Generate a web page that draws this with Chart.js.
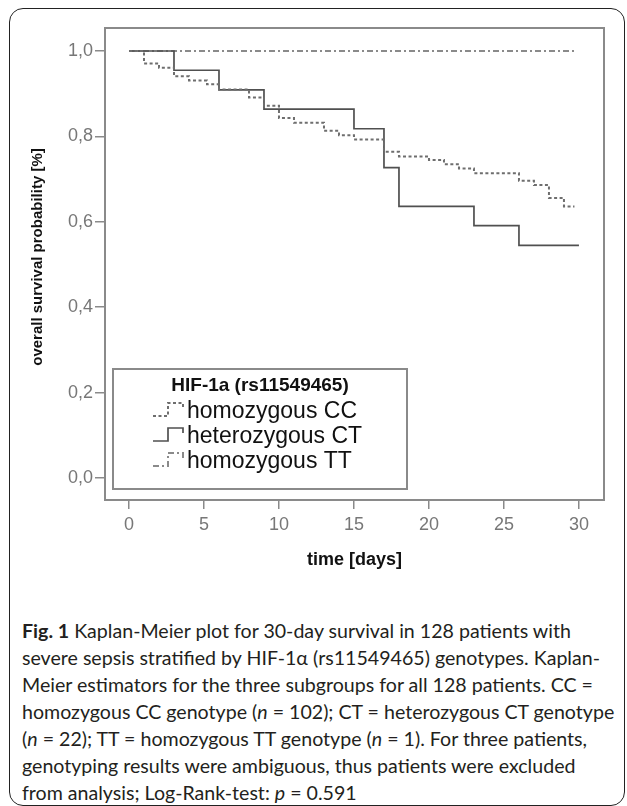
<!DOCTYPE html>
<html>
<head>
<meta charset="utf-8">
<script src="https://cdn.jsdelivr.net/npm/chart.js@4"></script>
<style>
  body { margin:0; width:627px; height:806px; position:relative; overflow:hidden; background:#fff; }
  #frame { position:absolute; left:9px; top:8px; width:616px; height:798px; border:1.5px solid #222; border-radius:14px; box-sizing:border-box; }
  #wrap { position:absolute; left:0; top:0; width:627px; height:580px; }
  #cap { position:absolute; left:22px; top:617px; font:19.6px Lato, sans-serif; line-height:27px; white-space:nowrap; color:#231f20; }
</style>
</head>
<body>
<div id="frame"></div>
<div id="wrap"><canvas id="km"></canvas></div>
<div id="cap">
<b>Fig. 1</b> Kaplan-Meier plot for 30-day survival in 128 patients with<br>
severe sepsis stratified by HIF-1α (rs11549465) genotypes. Kaplan-<br>
Meier estimators for the three subgroups for all 128 patients. CC =<br>
homozygous CC genotype (<i>n</i> = 102); CT = heterozygous CT genotype<br>
(<i>n</i> = 22); TT = homozygous TT genotype (<i>n</i> = 1). For three patients,<br>
genotyping results were ambiguous, thus patients were excluded<br>
from analysis; Log-Rank-test: <i>p</i> = 0.591
</div>
<script>
// survival curves (day, survival after the step)
const ccDays = [0, 1, 2, 3, 4, 5.2, 6, 8, 9, 10, 11, 13, 14, 15, 17, 18, 20, 21, 22, 23, 26, 27, 28, 29, 29.7];
const ccSurv = [1, 0.971, 0.961, 0.941, 0.931, 0.922, 0.910, 0.891, 0.872, 0.843, 0.832, 0.813, 0.803, 0.793, 0.764, 0.753, 0.745, 0.735, 0.725, 0.714, 0.696, 0.686, 0.656, 0.636, 0.636];
const ctDays = [0, 3, 6, 9, 15, 17, 18, 23, 26, 30];
const ctSurv = [1, 0.955, 0.909, 0.864, 0.818, 0.727, 0.636, 0.591, 0.545, 0.545];
const ttDays = [0, 29.7];
const ttSurv = [1, 1];

const groupNames = ['homozygous CC', 'heterozygous CT', 'homozygous TT'];
const legendTitle = 'HIF-1a (rs11549465)';

const xTicks = [0, 5, 10, 15, 20, 25, 30];
const yTicks = [0, 0.2, 0.4, 0.6, 0.8, 1.0];
const yTickLabels = ['0,0', '0,2', '0,4', '0,6', '0,8', '1,0'];

function pts(xs, ys) { return xs.map((x, i) => ({x: x, y: ys[i]})); }

const axisGray = '#8a8a8a';

// frame round the plot area + y axis title
const framePlugin = {
  id: 'frame',
  afterDraw(chart) {
    const a = chart.chartArea, c = chart.ctx;
    c.save();
    c.strokeStyle = axisGray; c.lineWidth = 2;
    c.strokeRect(a.left, a.top, a.right - a.left, a.bottom - a.top);
    c.translate(38, 257); c.rotate(-Math.PI / 2);
    c.fillStyle = '#111'; c.font = 'bold 15px "Liberation Sans", Arial';
    c.textAlign = 'center'; c.textBaseline = 'middle';
    c.fillText('overall survival probability [%]', 0, 0);
    c.restore();
  }
};

// SPSS style legend box inside the plot
const boxLegend = {
  id: 'boxLegend',
  afterDraw(chart) {
    const c = chart.ctx;
    const L = 113, T = 369, R = 407, B = 489;
    c.save();
    c.fillStyle = '#fff'; c.fillRect(L, T, R - L, B - T);
    c.strokeStyle = axisGray; c.lineWidth = 2;
    c.strokeRect(L, T, R - L, B - T);
    c.fillStyle = '#111'; c.textBaseline = 'middle';
    c.font = 'bold 19px "Liberation Sans", Arial'; c.textAlign = 'center';
    c.fillText(legendTitle, (L + R) / 2, 386);
    c.font = '23px "Liberation Sans", Arial'; c.textAlign = 'left';
    chart.data.datasets.forEach((ds, i) => {
      const y = 412 + i * 25;
      c.strokeStyle = ds.borderColor; c.lineWidth = ds.borderWidth;
      c.setLineDash(ds.borderDash || []);
      c.beginPath();
      c.moveTo(153, y + 4); c.lineTo(168, y + 4); c.lineTo(168, y - 9);
      c.lineTo(183, y - 9); c.lineTo(183, y - 4);
      c.stroke();
      c.setLineDash([]);
      c.fillStyle = '#111';
      c.fillText(ds.label, 187, y);
    });
    c.restore();
  }
};

new Chart(document.getElementById('km'), {
  type: 'line',
  data: {
    datasets: [
      {label: groupNames[0], data: pts(ccDays, ccSurv), borderColor: '#6e6e6e', borderWidth: 2, borderDash: [3, 2.5], stepped: 'before', pointRadius: 0, fill: false},
      {label: groupNames[1], data: pts(ctDays, ctSurv), borderColor: '#505050', borderWidth: 1.7, stepped: 'before', pointRadius: 0, fill: false},
      {label: groupNames[2], data: pts(ttDays, ttSurv), borderColor: '#8a8a8a', borderWidth: 2, borderDash: [6, 3, 2, 3], stepped: 'before', pointRadius: 0, fill: false}
    ]
  },
  options: {
    responsive: true,
    maintainAspectRatio: false,
    animation: false,
    layout: {padding: {left: 0, top: 28, right: 23, bottom: 0}},
    plugins: {legend: {display: false}, tooltip: {enabled: false}},
    scales: {
      x: {
        type: 'linear', min: -1.6, max: 31.67,
        afterBuildTicks: s => { s.ticks = xTicks.map(v => ({value: v})); },
        afterFit: s => { s.height = 80; },
        grid: {drawOnChartArea: false, drawTicks: true, tickLength: 9, color: axisGray, lineWidth: 1.5},
        border: {display: true, color: axisGray, width: 2},
        ticks: {color: '#777', font: {family: '"Liberation Sans", Arial', size: 18}, padding: 5, maxRotation: 0},
        title: {display: true, text: 'time [days]', color: '#111', font: {family: '"Liberation Sans", Arial', size: 18, weight: 'bold'}, padding: {top: 0, bottom: 9}}
      },
      y: {
        type: 'linear', min: -0.0515, max: 1.0539,
        afterBuildTicks: s => { s.ticks = yTicks.map(v => ({value: v})); },
        afterFit: s => { s.width = 105; },
        grid: {drawOnChartArea: false, drawTicks: true, tickLength: 10, color: axisGray, lineWidth: 1.5},
        border: {display: true, color: axisGray, width: 2},
        ticks: {color: '#777', font: {family: '"Liberation Sans", Arial', size: 18}, padding: 2,
          callback: (v, i) => yTickLabels[yTicks.indexOf(Math.round(v * 10) / 10)]}
      }
    }
  },
  plugins: [framePlugin, boxLegend]
});
</script>
</body>
</html>
